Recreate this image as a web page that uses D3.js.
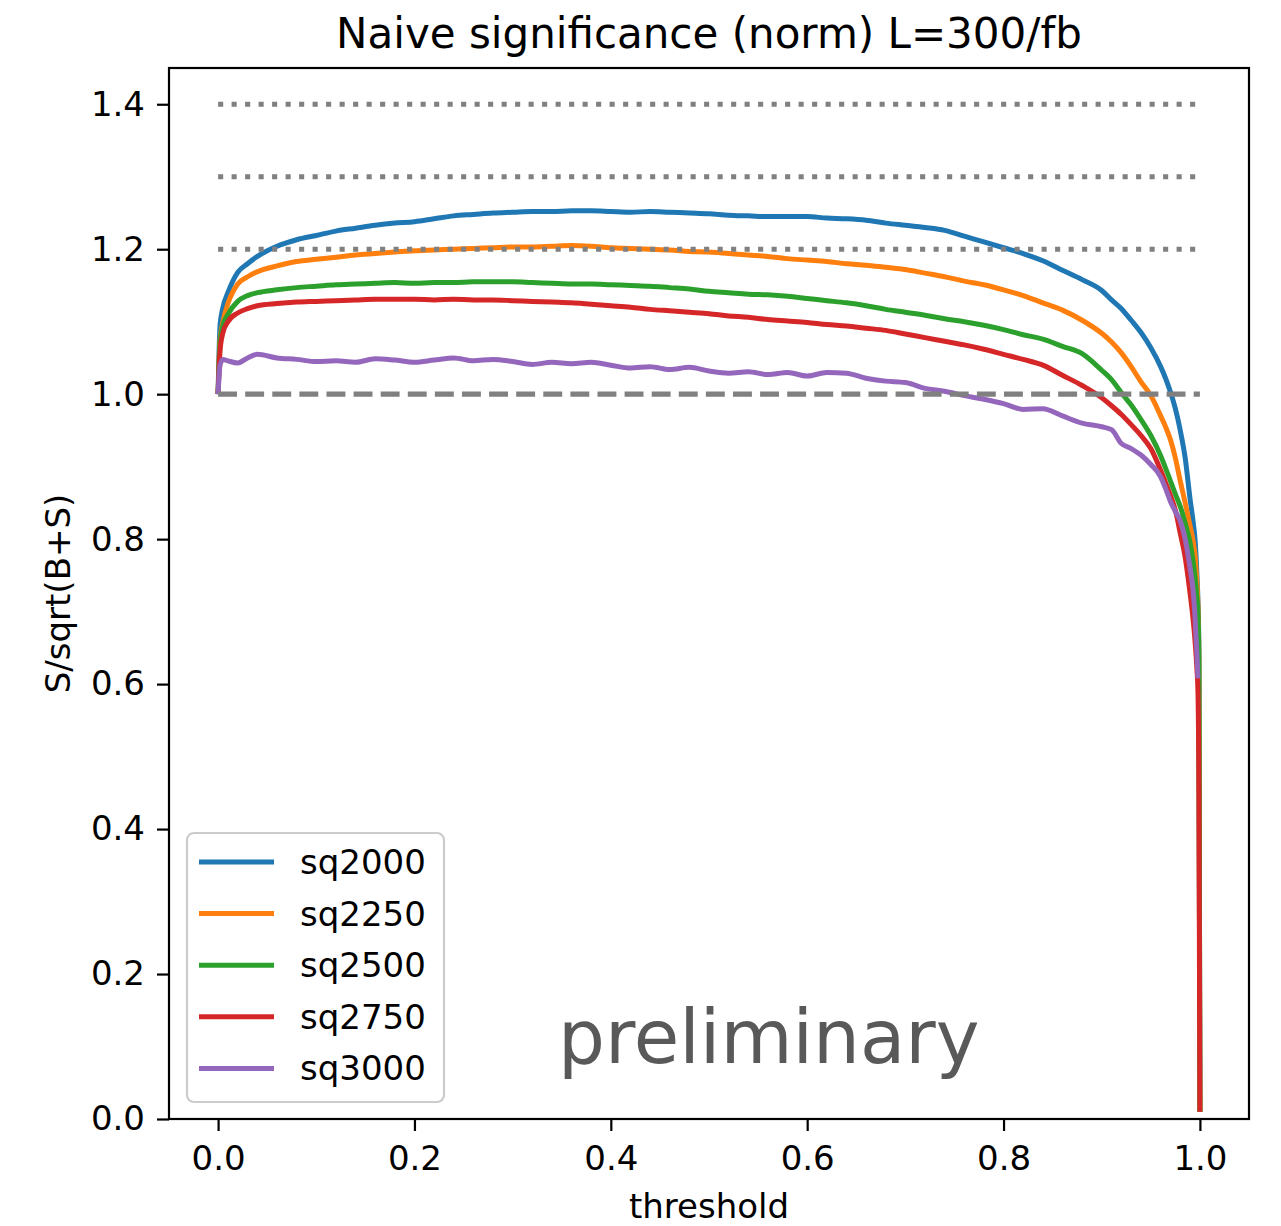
<!DOCTYPE html>
<html>
<head>
<meta charset="utf-8">
<script src="https://cdn.jsdelivr.net/npm/d3@7"></script>
<style>
  html, body { margin: 0; padding: 0; background: #fff; }
  svg { display: block; font-family: "DejaVu Sans", sans-serif; }
</style>
</head>
<body>
<svg id="chart" width="1281" height="1226"></svg>
<script>
const title = "Naive significance (norm) L=300/fb";
const xLabel = "threshold";
const yLabel = "S/sqrt(B+S)";
const watermark = "preliminary";

const thresholds = [0, 0.002, 0.005, 0.01, 0.02, 0.03, 0.04, 0.06, 0.08, 0.10, 0.12, 0.14, 0.16, 0.18, 0.20, 0.22, 0.24, 0.26, 0.28, 0.30, 0.32, 0.34, 0.36, 0.38, 0.40, 0.42, 0.44, 0.46, 0.48, 0.50, 0.52, 0.54, 0.56, 0.58, 0.60, 0.62, 0.64, 0.66, 0.68, 0.70, 0.72, 0.74, 0.76, 0.78, 0.80, 0.82, 0.84, 0.86, 0.88, 0.90, 0.91, 0.92, 0.93, 0.94, 0.95, 0.96, 0.965, 0.97, 0.975, 0.98, 0.985, 0.99, 0.993, 0.995, 0.997, 0.998, 0.999, 1.0];

const seriesNames = ["sq2000", "sq2250", "sq2500", "sq2750", "sq3000"];

const sq2000 = [1.000, 1.095, 1.120, 1.140, 1.168, 1.180, 1.190, 1.204, 1.213, 1.219, 1.225, 1.229, 1.233, 1.236, 1.238, 1.242, 1.246, 1.248, 1.250, 1.251, 1.252, 1.252, 1.253, 1.253, 1.252, 1.251, 1.252, 1.251, 1.250, 1.249, 1.247, 1.246, 1.245, 1.245, 1.245, 1.243, 1.242, 1.240, 1.236, 1.233, 1.230, 1.226, 1.218, 1.210, 1.202, 1.194, 1.184, 1.171, 1.158, 1.143, 1.130, 1.118, 1.102, 1.085, 1.064, 1.038, 1.022, 1.003, 0.980, 0.950, 0.912, 0.855, 0.825, 0.800, 0.750, 0.715, 0.640, 0.010];

const sq2250 = [1.000, 1.075, 1.100, 1.125, 1.152, 1.162, 1.169, 1.177, 1.183, 1.186, 1.189, 1.192, 1.194, 1.196, 1.198, 1.199, 1.200, 1.201, 1.202, 1.203, 1.203, 1.204, 1.205, 1.204, 1.202, 1.201, 1.200, 1.199, 1.197, 1.196, 1.194, 1.192, 1.190, 1.187, 1.185, 1.183, 1.180, 1.178, 1.175, 1.172, 1.167, 1.162, 1.156, 1.151, 1.144, 1.136, 1.126, 1.116, 1.102, 1.084, 1.072, 1.057, 1.038, 1.017, 0.998, 0.970, 0.955, 0.937, 0.912, 0.880, 0.850, 0.818, 0.798, 0.778, 0.738, 0.708, 0.630, 0.010];

const sq2500 = [1.000, 1.070, 1.095, 1.110, 1.128, 1.136, 1.140, 1.144, 1.147, 1.149, 1.151, 1.152, 1.153, 1.154, 1.153, 1.154, 1.154, 1.155, 1.155, 1.155, 1.154, 1.153, 1.152, 1.152, 1.151, 1.150, 1.149, 1.147, 1.145, 1.142, 1.140, 1.138, 1.137, 1.135, 1.132, 1.129, 1.126, 1.122, 1.117, 1.113, 1.109, 1.104, 1.100, 1.095, 1.089, 1.082, 1.076, 1.066, 1.056, 1.033, 1.020, 1.002, 0.985, 0.965, 0.943, 0.915, 0.898, 0.880, 0.862, 0.845, 0.822, 0.795, 0.770, 0.748, 0.720, 0.700, 0.620, 0.010];

const sq2750 = [1.000, 1.060, 1.085, 1.100, 1.112, 1.118, 1.122, 1.125, 1.127, 1.128, 1.129, 1.130, 1.131, 1.131, 1.131, 1.130, 1.131, 1.130, 1.130, 1.129, 1.128, 1.127, 1.126, 1.124, 1.122, 1.120, 1.117, 1.115, 1.113, 1.111, 1.108, 1.106, 1.103, 1.101, 1.099, 1.096, 1.094, 1.091, 1.088, 1.083, 1.078, 1.073, 1.068, 1.062, 1.055, 1.048, 1.040, 1.026, 1.012, 0.995, 0.984, 0.972, 0.958, 0.943, 0.925, 0.895, 0.878, 0.860, 0.840, 0.808, 0.775, 0.725, 0.690, 0.660, 0.620, 0.590, 0.450, 0.010];

const sq3000 = [1.000, 1.040, 1.048, 1.046, 1.043, 1.050, 1.055, 1.050, 1.048, 1.045, 1.046, 1.044, 1.049, 1.047, 1.044, 1.047, 1.050, 1.046, 1.048, 1.045, 1.041, 1.044, 1.042, 1.044, 1.040, 1.036, 1.038, 1.034, 1.037, 1.032, 1.029, 1.031, 1.027, 1.030, 1.025, 1.030, 1.029, 1.022, 1.018, 1.016, 1.008, 1.004, 0.998, 0.993, 0.987, 0.979, 0.980, 0.970, 0.960, 0.955, 0.951, 0.932, 0.925, 0.916, 0.903, 0.886, 0.870, 0.852, 0.838, 0.825, 0.800, 0.760, 0.730, 0.693, 0.640, 0.608, null, null];

const colors = ["#1f77b4", "#ff7f0e", "#2ca02c", "#d62728", "#9467bd"];
const dottedLevels = [1.2, 1.3, 1.4];
const dashedLevels = [1.0];
const xTicks = [0.0, 0.2, 0.4, 0.6, 0.8, 1.0];
const yTicks = [0.0, 0.2, 0.4, 0.6, 0.8, 1.0, 1.2, 1.4];

const allSeries = [sq2000, sq2250, sq2500, sq2750, sq3000];

const svg = d3.select("#chart");
const mLeft = 169, mRight = 1249, mTop = 68, mBottom = 1119;

const x = d3.scaleLinear().domain([-0.05, 1.05]).range([mLeft, mRight]);
const y = d3.scaleLinear().domain([0, 1.45]).range([mBottom, mTop]);

svg.append("defs").append("clipPath").attr("id", "clip")
  .append("rect").attr("x", mLeft).attr("y", mTop).attr("width", mRight - mLeft).attr("height", mBottom - mTop);

const plot = svg.append("g");
const lines = plot.append("g").attr("clip-path", "url(#clip)");
const lineGen = d3.line()
  .defined(d => d[1] !== null)
  .curve(d3.curveMonotoneX)
  .x(d => x(d[0])).y(d => y(d[1]));

allSeries.forEach((vals, i) => {
  const pts = thresholds.map((t, j) => [t, vals[j]]);
  lines.append("path")
    .attr("d", lineGen(pts))
    .attr("fill", "none")
    .attr("stroke", colors[i])
    .attr("stroke-width", 5)
    .attr("stroke-linejoin", "round")
    .attr("stroke-linecap", "butt");
});

dottedLevels.forEach(v => {
  lines.append("line")
    .attr("x1", x(0)).attr("x2", x(1)).attr("y1", y(v)).attr("y2", y(v))
    .attr("stroke", "#808080").attr("stroke-width", 5.1)
    .attr("stroke-dasharray", "5.1,8.4");
});
dashedLevels.forEach(v => {
  lines.append("line")
    .attr("x1", x(0)).attr("x2", x(1)).attr("y1", y(v)).attr("y2", y(v))
    .attr("stroke", "#808080").attr("stroke-width", 5.1)
    .attr("stroke-dasharray", "18.9,8.2");
});

plot.append("text")
  .attr("x", 558).attr("y", 1063)
  .attr("font-size", 74)
  .attr("fill", "#595959")
  .text(watermark);

const xAxis = d3.axisBottom(x).tickValues(xTicks).tickFormat(d3.format(".1f")).tickSize(12).tickPadding(15);
const yAxis = d3.axisLeft(y).tickValues(yTicks).tickFormat(d3.format(".1f")).tickSize(12).tickPadding(12);

const gx = svg.append("g").attr("transform", `translate(0,${mBottom})`).call(xAxis);
const gy = svg.append("g").attr("transform", `translate(${mLeft},0)`).call(yAxis);
[gx, gy].forEach(g => {
  g.select(".domain").remove();
  g.selectAll(".tick line").attr("stroke", "#000").attr("stroke-width", 2.2);
  g.selectAll(".tick text").attr("font-size", 34).attr("fill", "#000").attr("font-family", "DejaVu Sans");
});

svg.append("rect")
  .attr("x", mLeft).attr("y", mTop).attr("width", mRight - mLeft).attr("height", mBottom - mTop)
  .attr("fill", "none").attr("stroke", "#000").attr("stroke-width", 2.2);

svg.append("text").attr("x", (mLeft + mRight) / 2).attr("y", 48)
  .attr("text-anchor", "middle").attr("font-size", 42).attr("fill", "#000").text(title);
svg.append("text").attr("x", (mLeft + mRight) / 2).attr("y", 1218)
  .attr("text-anchor", "middle").attr("font-size", 34).attr("fill", "#000").text(xLabel);
svg.append("text").attr("transform", `translate(70,${(mTop + mBottom) / 2}) rotate(-90)`)
  .attr("text-anchor", "middle").attr("font-size", 34).attr("fill", "#000").text(yLabel);

const lg = svg.append("g");
lg.append("rect").attr("x", 187).attr("y", 833).attr("width", 257).attr("height", 269)
  .attr("rx", 7).attr("fill", "#fff").attr("fill-opacity", 0.8)
  .attr("stroke", "#cccccc").attr("stroke-width", 2.2);
seriesNames.forEach((name, i) => {
  const yy = 862 + i * 51.6;
  lg.append("line").attr("x1", 199).attr("x2", 274).attr("y1", yy).attr("y2", yy)
    .attr("stroke", colors[i]).attr("stroke-width", 5);
  lg.append("text").attr("x", 300).attr("y", yy + 12)
    .attr("font-size", 34).attr("fill", "#000").text(name);
});
</script>
</body>
</html>
